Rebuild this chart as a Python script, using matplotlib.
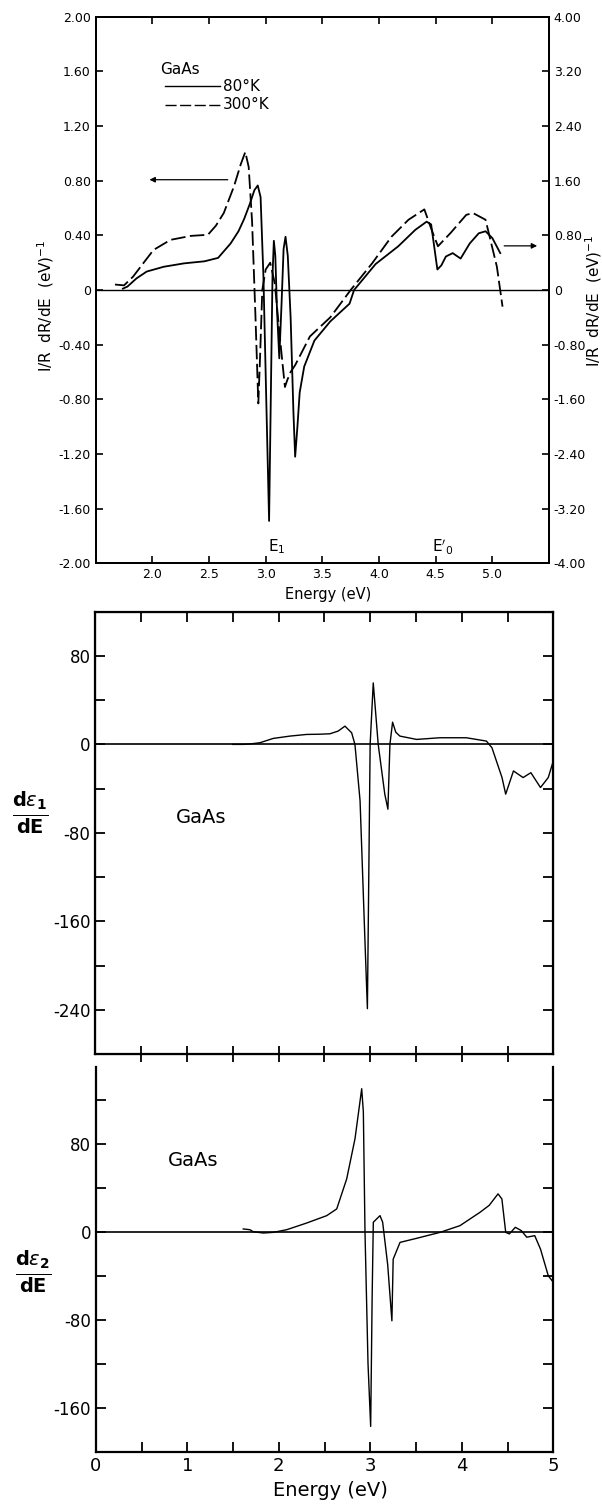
import numpy as np
import matplotlib
matplotlib.use("Agg")
import matplotlib.pyplot as plt

# ---- top panel: 1/R dR/dE, GaAs at 80K (solid) and 300K (dashed)
e_80 = [1.74, 1.78, 1.86, 1.95, 2.10, 2.28, 2.46, 2.58, 2.69, 2.76, 2.81, 2.86, 2.90, 2.93,
        2.955, 2.98, 3.005, 3.03, 3.045, 3.06, 3.072, 3.085, 3.10, 3.12, 3.14, 3.158, 3.175,
        3.195, 3.22, 3.245, 3.26, 3.28, 3.30, 3.34, 3.43, 3.57, 3.74, 3.78, 3.97, 4.17, 4.32,
        4.42, 4.46, 4.49, 4.515, 4.55, 4.59, 4.65, 4.72, 4.80, 4.88, 4.94, 5.00, 5.07]
r_80 = [0.01, 0.025, 0.085, 0.135, 0.17, 0.195, 0.21, 0.235, 0.34, 0.43, 0.52, 0.63, 0.73, 0.765,
        0.68, 0.10, -0.80, -1.69, -0.80, 0.10, 0.36, 0.25, -0.15, -0.50, -0.10, 0.30, 0.39,
        0.25, -0.20, -0.90, -1.22, -1.00, -0.75, -0.56, -0.37, -0.23, -0.10, 0.0, 0.19, 0.32, 0.44,
        0.50, 0.48, 0.30, 0.15, 0.18, 0.245, 0.27, 0.23, 0.34, 0.415, 0.43, 0.38, 0.27]

e_300 = [1.67, 1.75, 1.83, 1.92, 2.01, 2.16, 2.34, 2.49, 2.56, 2.63, 2.72, 2.78, 2.82, 2.85,
         2.88, 2.91, 2.935, 2.95, 2.97, 3.00, 3.04, 3.08, 3.12, 3.15, 3.17, 3.19, 3.22, 3.26,
         3.39, 3.57, 3.75, 3.94, 4.11, 4.26, 4.40, 4.46, 4.52, 4.63, 4.77, 4.83, 4.94, 5.04, 5.09]
r_300 = [0.04, 0.034, 0.098, 0.196, 0.293, 0.367, 0.396, 0.404, 0.47, 0.563, 0.758, 0.92, 1.01, 0.90,
         0.50, -0.20, -0.83, -0.50, 0.0, 0.15, 0.20, 0.05, -0.30, -0.55, -0.71, -0.66, -0.60, -0.55,
         -0.34, -0.20, 0.0, 0.196, 0.39, 0.514, 0.59, 0.45, 0.32, 0.416, 0.55, 0.563, 0.514, 0.171, -0.122]

left_ticks = [2.0, 1.6, 1.2, 0.8, 0.4, 0, -0.4, -0.8, -1.2, -1.6, -2.0]
left_labels = ["2.00", "1.60", "1.20", "0.80", "0.40", "0", "-0.40", "-0.80", "-1.20", "-1.60", "-2.00"]
right_ticks = [4.0, 3.2, 2.4, 1.6, 0.8, 0, -0.8, -1.6, -2.4, -3.2, -4.0]
right_labels = ["4.00", "3.20", "2.40", "1.60", "0.80", "0", "-0.80", "-1.60", "-2.40", "-3.20", "-4.00"]
top_xticks = [2.0, 2.5, 3.0, 3.5, 4.0, 4.5, 5.0]

# ---- middle panel: d eps1 / dE
e_eps1 = [1.50, 1.615, 1.70, 1.797, 1.942, 2.124, 2.307, 2.45, 2.561, 2.65, 2.725, 2.798, 2.834,
          2.89, 2.94, 2.97, 2.985, 3.0, 3.034, 3.088, 3.16, 3.194, 3.216, 3.245, 3.28, 3.325,
          3.507, 3.76, 4.05, 4.27, 4.33, 4.44, 4.48, 4.565, 4.67, 4.755, 4.86, 4.945, 5.0]
d_eps1 = [0, 0, 0.5, 1.5, 5.4, 7.5, 9.0, 9.2, 9.6, 12, 16.5, 10.5, 0,
          -51, -170, -239, -120, 0, 55.6, 0, -45, -58.6, 0, 20.1, 11, 7.5,
          4.5, 6, 6, 3, -3, -30, -45, -24, -30, -25.6, -39, -30, -15]

# ---- bottom panel: d eps2 / dE
e_eps2 = [1.612, 1.685, 1.72, 1.83, 1.94, 2.086, 2.305, 2.524, 2.633, 2.742, 2.833, 2.906, 2.924,
          2.942, 2.975, 3.004, 3.02, 3.033, 3.05, 3.106, 3.135, 3.19, 3.236, 3.25, 3.325, 3.507,
          3.762, 3.98, 4.2, 4.3, 4.396, 4.438, 4.48, 4.52, 4.585, 4.65, 4.71, 4.797, 4.86, 4.945, 5.0]
d_eps2 = [2.5, 1.8, 0, -1.2, -0.6, 1.8, 7.9, 14.6, 20.7, 48, 84.6, 130, 109,
          0, -120, -177, -60, 8.6, 10, 14.6, 8.6, -30, -81, -25, -9.7, -6,
          -0.6, 5.5, 17.7, 24, 34.4, 29.8, -0.6, -2, 4, 1, -5, -3.6, -15.8, -40, -46]

W, H = 602, 1504
fig = plt.figure(figsize=(W / 100, H / 100), dpi=100)


def box(l, t, r, b):
    return [l / W, 1 - b / H, (r - l) / W, (b - t) / H]


# ================= top panel =================
ax = fig.add_axes(box(95.7, 16.7, 549, 563.3))
ax.plot(e_80, r_80, color="black", lw=1.3)
ax.plot(e_300, r_300, color="black", lw=1.3, linestyle=(0, (8, 2.5)))
ax.axhline(0, color="black", lw=1.0)
ax.set_xlim(1.5, 5.5)
ax.set_ylim(-2, 2)
ax.set_yticks(left_ticks)
ax.set_yticklabels(left_labels)
ax.set_xticks(top_xticks)
ax.set_xticklabels(["2.0", "2.5", "3.0", "3.5", "4.0", "4.5", "5.0"])
ax.tick_params(direction="in", length=5, width=1.2, labelsize=9, top=True)
for s in ax.spines.values():
    s.set_linewidth(1.4)

ax2 = ax.twinx()
ax2.set_ylim(-4, 4)
ax2.set_yticks(right_ticks)
ax2.set_yticklabels(right_labels)
ax2.tick_params(direction="in", length=5, width=1.2, labelsize=9)
for s in ax2.spines.values():
    s.set_linewidth(1.4)

# legend drawn by hand like the original
ax.text(2.07, 1.615, "GaAs", fontsize=11, va="center")
ax.plot([2.11, 2.60], [1.49, 1.49], color="black", lw=1.0)
ax.plot([2.11, 2.60], [1.357, 1.357], color="black", lw=1.0, linestyle=(0, (8, 2.5)))
ax.text(2.62, 1.49, "80°K", fontsize=11, va="center")
ax.text(2.62, 1.357, "300°K", fontsize=11, va="center")

ax.annotate("", xy=(1.95, 0.807), xytext=(2.69, 0.807),
            arrowprops=dict(arrowstyle="-|>", color="black", lw=0.9, mutation_scale=8))
ax.annotate("", xy=(5.42, 0.323), xytext=(5.08, 0.323),
            arrowprops=dict(arrowstyle="-|>", color="black", lw=0.9, mutation_scale=8))

ax.text(3.10, -1.88, r"E$_1$", fontsize=11, ha="center", va="center")
ax.text(4.56, -1.88, r"$\mathrm{E}'_0$", fontsize=11, ha="center", va="center")

fig.text(46 / W, 1 - 306 / H, r"I/R  dR/dE  (eV)$^{-1}$", rotation=90,
         ha="center", va="center", fontsize=11)
fig.text(594 / W, 1 - 301 / H, r"I/R  dR/dE  (eV)$^{-1}$", rotation=90,
         ha="center", va="center", fontsize=11)
fig.text(328 / W, 1 - 595 / H, "Energy (eV)", ha="center", va="center", fontsize=10.5)

# ================= middle panel =================
xt = np.arange(0.5, 5.0, 0.5)
bx = fig.add_axes(box(95.4, 611.7, 553.3, 1054))
bx.plot(e_eps1, d_eps1, color="black", lw=1.0)
bx.axhline(0, color="black", lw=1.2)
bx.set_xlim(0, 5)
bx.set_ylim(-280, 120)
bx.set_yticks([80, 40, 0, -40, -80, -120, -160, -200, -240])
bx.set_yticklabels(["80", "", "0", "", "-80", "", "-160", "", "-240"])
bx.set_xticks(xt)
bx.set_xticklabels([])
bx.tick_params(axis="y", direction="in", length=7, width=1.3, labelsize=12, right=True)
bx.tick_params(axis="x", direction="inout", length=12, width=1.3)
for s in bx.spines.values():
    s.set_linewidth(1.6)
# top ticks point inward only
bt = bx.twiny()
bt.set_xlim(0, 5)
bt.set_xticks(xt)
bt.set_xticklabels([])
bt.tick_params(axis="x", direction="in", length=7, width=1.3)
bx.text(1.15, -66, "GaAs", fontsize=14, ha="center", va="center")
fig.text(30 / W, 1 - 813 / H, r"$\frac{\mathbf{d}\epsilon_\mathbf{1}}{\mathbf{dE}}$",
         ha="center", va="center", fontsize=20)

# ================= bottom panel =================
cx = fig.add_axes(box(95.8, 1066.7, 553.3, 1451.7))
cx.plot(e_eps2, d_eps2, color="black", lw=1.0)
cx.axhline(0, color="black", lw=1.2)
cx.set_xlim(0, 5)
cx.set_ylim(-200, 150)
cx.set_yticks([120, 80, 40, 0, -40, -80, -120, -160])
cx.set_yticklabels(["", "80", "", "0", "", "-80", "", "-160"])
cx.set_xticks(np.arange(0, 5.01, 0.5))
cx.set_xticklabels(["0", "", "1", "", "2", "", "3", "", "4", "", "5"])
cx.tick_params(axis="y", direction="in", length=7, width=1.3, labelsize=12, right=True)
cx.tick_params(axis="x", direction="in", length=7, width=1.3, labelsize=13)
cx.spines["top"].set_visible(False)
for s in cx.spines.values():
    s.set_linewidth(1.6)
cx.text(1.06, 65, "GaAs", fontsize=14, ha="center", va="center")
fig.text(33 / W, 1 - 1272 / H, r"$\frac{\mathbf{d}\epsilon_\mathbf{2}}{\mathbf{dE}}$",
         ha="center", va="center", fontsize=20)
fig.text(330 / W, 1 - 1490 / H, "Energy (eV)", ha="center", va="center", fontsize=14)

fig.savefig("out.png", dpi=100)
